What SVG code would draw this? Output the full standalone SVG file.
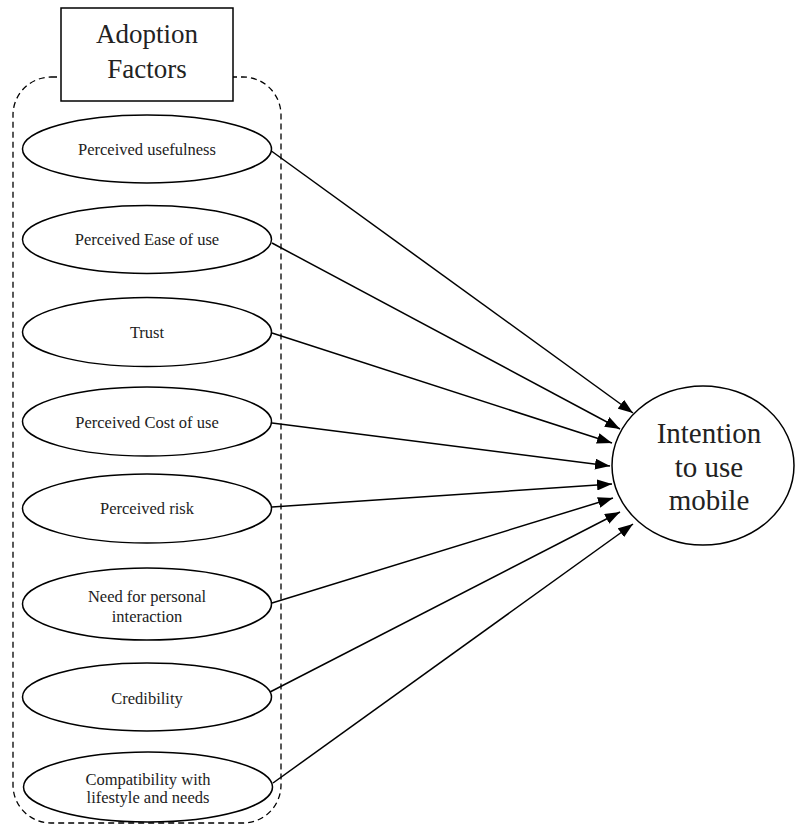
<svg xmlns="http://www.w3.org/2000/svg" width="796" height="835" viewBox="0 0 796 835">
<defs>
<marker id="ah" markerWidth="15" markerHeight="11" refX="15" refY="5.5" orient="auto" markerUnits="userSpaceOnUse">
<path d="M0,0 L15,5.5 L0,11 Z" fill="#000"/>
</marker>
<style>
.f{fill:#fff;stroke:#000;stroke-width:1.5}
.t{font-family:"Liberation Serif","Times New Roman",serif;font-size:16.5px;fill:#222;text-anchor:middle}
.big{font-family:"Liberation Serif","Times New Roman",serif;font-size:27px;fill:#222;text-anchor:middle}
.huge{font-family:"Liberation Serif","Times New Roman",serif;font-size:29px;fill:#222;text-anchor:middle}
.c{stroke:#000;stroke-width:1.5;fill:none;marker-end:url(#ah)}
</style>
</defs>
<rect x="0" y="0" width="796" height="835" fill="#fff"/>
<g id="group-border">
<rect x="13" y="77" width="268" height="746" rx="38" ry="38" fill="none" stroke="#000" stroke-width="1.3" stroke-dasharray="6,4"/>
</g>
<g id="adoption-factors">
<rect x="61" y="8" width="172" height="93" class="f"/>
<text class="big" x="147" y="43">Adoption</text>
<text class="big" x="147" y="78">Factors</text>
</g>
<g id="connectors">
<line class="c" x1="270" y1="150" x2="633" y2="413"/>
<line class="c" x1="272" y1="243" x2="620" y2="429"/>
<line class="c" x1="272" y1="333" x2="612" y2="443"/>
<line class="c" x1="272" y1="423" x2="610" y2="466"/>
<line class="c" x1="272" y1="507" x2="612" y2="484"/>
<line class="c" x1="272" y1="603" x2="613" y2="498"/>
<line class="c" x1="270" y1="692" x2="620" y2="512"/>
<line class="c" x1="273" y1="783" x2="633" y2="524"/>
</g>
<g id="n1"><ellipse class="f" cx="147" cy="149" rx="124.5" ry="34"/><text class="t" x="147" y="155">Perceived usefulness</text></g>
<g id="n2"><ellipse class="f" cx="147" cy="239.5" rx="124.5" ry="34"/><text class="t" x="147" y="245">Perceived Ease of use</text></g>
<g id="n3"><ellipse class="f" cx="147" cy="332" rx="124.5" ry="34.5"/><text class="t" x="147" y="338">Trust</text></g>
<g id="n4"><ellipse class="f" cx="147" cy="421.5" rx="124.5" ry="34.5"/><text class="t" x="147" y="428">Perceived Cost of use</text></g>
<g id="n5"><ellipse class="f" cx="147" cy="508.5" rx="124.5" ry="34.5"/><text class="t" x="147" y="514">Perceived risk</text></g>
<g id="n6"><ellipse class="f" cx="147" cy="604" rx="124.5" ry="36"/><text class="t" x="147" y="602">Need for personal</text><text class="t" x="147" y="622">interaction</text></g>
<g id="n7"><ellipse class="f" cx="147" cy="697" rx="124.5" ry="34"/><text class="t" x="147" y="704">Credibility</text></g>
<g id="n8"><ellipse class="f" cx="148" cy="787" rx="124.5" ry="35"/><text class="t" x="148" y="785">Compatibility with</text><text class="t" x="148" y="803">lifestyle and needs</text></g>
<g id="intention">
<ellipse class="f" cx="703" cy="465.5" rx="91" ry="79.5"/>
<text class="huge" x="709" y="443">Intention</text>
<text class="huge" x="709" y="477">to use</text>
<text class="huge" x="709" y="510">mobile</text>
</g>
</svg>
